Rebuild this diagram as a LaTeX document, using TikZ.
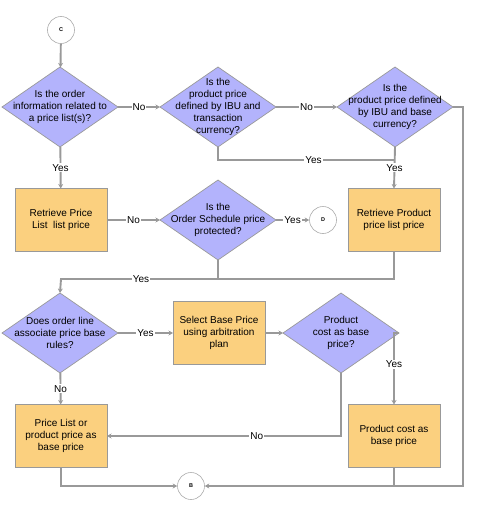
\documentclass[tikz,border=0pt]{standalone}
\usepackage{fontspec}
\setmainfont{Liberation Sans}
\usepackage{tikz}
\usetikzlibrary{shapes,arrows,arrows.meta,positioning,calc}

\definecolor{flowline}{HTML}{999999}
\definecolor{decfill}{HTML}{B3B3FC}
\definecolor{procfill}{HTML}{FBD07F}
\newcommand{\flowfont}{\fontsize{10}{12}\selectfont}

\tikzset{
    decision/.style={diamond, draw=flowline, fill=decfill, line width=0.7pt, minimum width=116pt, minimum height=80pt, inner sep=0pt, outer sep=0pt},
    dtext/.style={align=center, font=\flowfont, inner sep=0pt},
    process/.style={rectangle, draw=flowline, fill=procfill, line width=0.9pt, minimum width=92pt, minimum height=63pt, align=center, font=\flowfont, outer sep=0pt},
    connector/.style={circle, draw=flowline!80, fill=white, line width=0.6pt, minimum size=27pt, inner sep=0pt, font=\fontsize{5.5}{6}\selectfont\bfseries},
    flow/.style={draw=flowline, line width=1.9pt, -{Stealth[length=4.5pt,width=5pt]}},
    flowjoin/.style={draw=flowline, line width=1.9pt},
    answer/.style={fill=white, inner sep=1pt, font=\flowfont},
}

\begin{document}
\begin{tikzpicture}[x=1pt, y=-1pt]
    \useasboundingbox (0,0) rectangle (488,519);

    % Off-page connectors
    \node[connector] (C) at (61,30) {C};
    \node[connector] (D) at (323,220) {D};
    \node[connector] (B) at (191,486) {B};

    % Decisions
    \node[decision, label={[dtext]center:{Is the order\\information related to\\a price list(s)?}}] (d1) at (60,107) {};
    \node[decision, label={[dtext]center:{Is the\\product price\\defined by IBU and\\transaction\\currency?}}] (d2) at (218,107) {};
    \node[decision, label={[dtext]center:{Is the\\product price defined\\by IBU and base\\currency?}}] (d3) at (395,107) {};
    \node[decision, label={[dtext]center:{Is the\\Order Schedule price\\protected?}}] (d4) at (218,220) {};
    \node[decision, label={[dtext]center:{Does order line\\associate price base\\rules?}}] (d5) at (60,333) {};
    \node[decision, label={[dtext]center:{Product\\cost as base\\price?}}] (d6) at (341,333) {};

    % Processes
    \node[process] (p1) at (61,220) {Retrieve Price\\List\ \ list price};
    \node[process] (p2) at (394,220) {Retrieve Product\\price list price};
    \node[process] (p3) at (219,333) {Select Base Price\\using arbitration\\plan};
    \node[process] (p4) at (394,436) {Product cost as\\base price};
    \node[process] (p5) at (61,436) {Price List or\\product price as\\base price};

    % Junction points
    \coordinate (j1) at (395,160);
    \coordinate (j2) at (61,279);
    \coordinate (rc) at (463,486);

    % Connectors
    \draw[flow] (C) -- (d1);
    \draw[flow] (d1) -- node[answer]{No} (d2);
    \draw[flow] (d2) -- node[answer]{No} (d3);
    \draw[flowjoin] (d2.south) |- node[answer, pos=0.77]{Yes} (j1);
    \draw[flow] (d3.south) -- node[answer]{Yes} (p2.north);
    \draw[flow] (d3.east) -| (rc) -- (B);
    \draw[flow] (d1) -- node[answer]{Yes} (p1);
    \draw[flow] (p1) -- node[answer]{No} (d4);
    \draw[flow] (d4) -- node[answer]{Yes} (D);
    \draw[flow] (p2.south) |- node[answer, pos=0.88]{Yes} (j2) -- (d5.north);
    \draw[flowjoin] (d4.south) -- (d4.south |- j2);
    \draw[flow] (d5) -- node[answer]{Yes} (p3);
    \draw[flow] (p3) -- (d6);
    \draw[flow] (d6.east) -| node[answer, pos=0.72]{Yes} (p4.north);
    \draw[flow] (d6.south) |- node[answer, pos=0.68]{No} (p5.east);
    \draw[flow] (d5) -- node[answer]{No} (p5);
    \draw[flow] (p5.south) |- (B);
    \draw[flowjoin] (p4.south) -- (p4.south |- B);
\end{tikzpicture}
\end{document}
